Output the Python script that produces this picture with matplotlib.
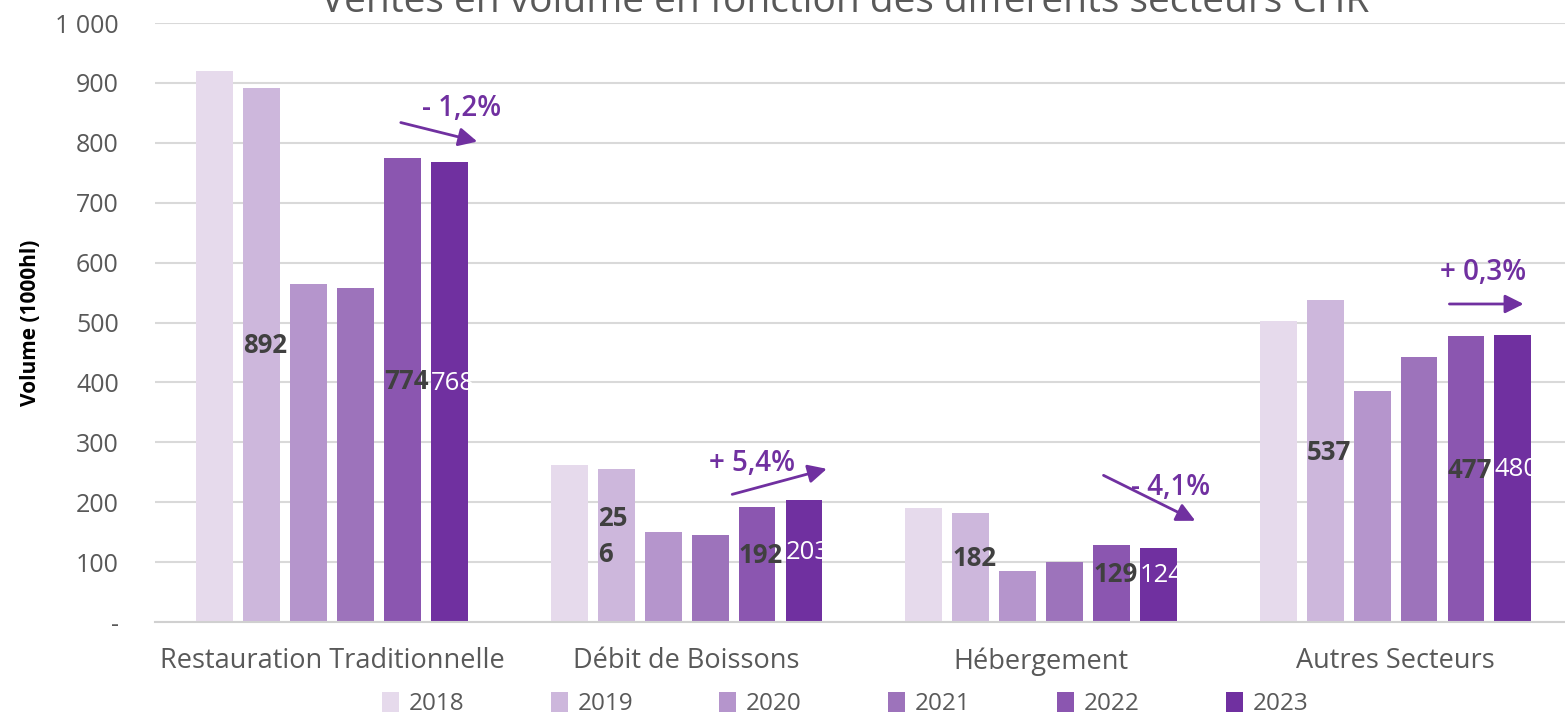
import numpy as np
import matplotlib.pyplot as plt

plt.rcParams['font.family'] = ['Open Sans', 'DejaVu Sans']

sectors = ['Restauration Traditionnelle', 'Débit de Boissons', 'Hébergement', 'Autres Secteurs']
years = ['2018', '2019', '2020', '2021', '2022', '2023']
colors = ['#E6DAEC', '#CDB7DC', '#B595CC', '#9D73BB', '#8B56B0', '#7030A0']

v2018 = [920, 262, 190, 502]
v2019 = [892, 256, 182, 537]
v2020 = [564, 150, 85, 385]
v2021 = [557, 145, 100, 443]
v2022 = [774, 192, 129, 477]
v2023 = [768, 203, 124, 480]
values = [v2018, v2019, v2020, v2021, v2022, v2023]

label_2019 = ['892', '25\n6', '182', '537']
label_2022 = ['774', '192', '129', '477']
label_2023 = ['768', '203', '124', '480']

changes = ['- 1,2%', '+ 5,4%', '- 4,1%', '+ 0,3%']
# arrow start/end (x offset within group, value) and text position
arrow_start = [(0.186, 835), (0.121, 212), (0.169, 247), (0.144, 531)]
arrow_end = [(0.417, 801), (0.403, 257), (0.442, 167), (0.369, 531)]
text_pos = [(0.366, 858), (0.183, 265), (0.366, 224), (0.248, 584)]

purple = '#7030A0'
grey = '#595959'

fig = plt.figure(figsize=(15.65, 7.2), dpi=100)
ax = fig.add_axes([0.099, 0.136, 0.906, 0.832])

x = np.arange(len(sectors))
width = 0.104
step = 0.1324
bars = []
for i, (yr, vals) in enumerate(zip(years, values)):
    offs = (i - 2.5) * step
    b = ax.bar(x + offs, vals, width, color=colors[i], label=yr, zorder=2)
    bars.append(b)

for i, (labels, color, weight) in zip([1, 4, 5],
                                      [(label_2019, '#404040', 'bold'),
                                       (label_2022, '#404040', 'bold'),
                                       (label_2023, 'white', 'normal')]):
    for j, lab in enumerate(labels):
        left = x[j] + (i - 2.5) * step - width / 2
        ax.text(left, values[i][j] / 2 + 15, lab, ha='left', va='center',
                fontsize=18.5, color=color, fontweight=weight, zorder=3,
                linespacing=1.4)

for j in range(len(sectors)):
    ax.annotate('', xy=(x[j] + arrow_end[j][0], arrow_end[j][1]),
                xytext=(x[j] + arrow_start[j][0], arrow_start[j][1]),
                arrowprops=dict(arrowstyle='-|>', color=purple, lw=2,
                                mutation_scale=28), zorder=4)
    ax.text(x[j] + text_pos[j][0], text_pos[j][1], changes[j], ha='center',
            va='center', fontsize=20, color=purple, fontweight='semibold')

ax.set_xlim(-0.5, 3.5)
ax.set_ylim(0, 1000)
ax.set_yticks(np.arange(0, 1001, 100))
ax.set_yticklabels(['-'] + [str(v) for v in range(100, 1000, 100)] + ['1 000'])
ax.set_xticks(x)
ax.set_xticklabels(sectors)
ax.tick_params(axis='x', length=0, labelsize=19.5, colors=grey, pad=18)
ax.tick_params(axis='y', length=0, labelsize=18, colors=grey, pad=26)
for t in ax.get_yticklabels():
    t.set_horizontalalignment('right')
ax.grid(axis='y', color='#D9D9D9', lw=1.5, zorder=0)
for s in ['top', 'right', 'left']:
    ax.spines[s].set_visible(False)
ax.spines['bottom'].set_color('#D0D0D0')
ax.spines['bottom'].set_linewidth(1.5)
ax.set_ylabel('Volume (1000hl)', fontsize=15, fontweight='bold', color='black', labelpad=10)

fig.text(0.54, 1 - 12 / 720, 'Ventes en volume en fonction des différents secteurs CHR',
         ha='center', va='baseline', fontsize=28, color=grey)

fig.legend(handles=bars, labels=years, loc='center', bbox_to_anchor=(0.54, 0.022),
           ncol=6, frameon=False, fontsize=17.5, handlelength=0.7, handleheight=0.9,
           columnspacing=3.55, handletextpad=0.4, labelcolor=grey)

plt.savefig('out.png', dpi=100)
